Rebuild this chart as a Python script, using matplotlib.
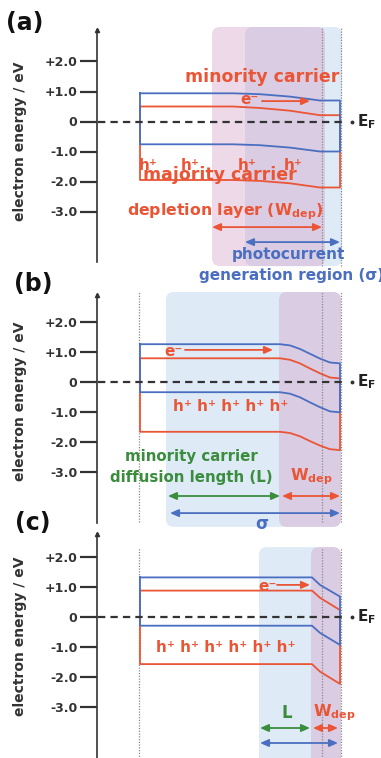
import numpy as np
import matplotlib.pyplot as plt
from matplotlib.patches import FancyBboxPatch

plt.rcParams['font.family'] = 'DejaVu Sans'
plt.rcParams['font.weight'] = 'bold'
plt.rcParams['mathtext.default'] = 'bf'

BLUE = '#4b6fc0'
RED = '#ea5536'
GREEN = '#3b8d3e'
AXIS = '#333333'
BLUE_FILL = '#dfeaf7'
PINK_FILL = '#d49cc4'
GUIDE = '#8a8a8a'

# y axis (electron energy, eV)
tick_vals = [2, 1, 0, -1, -2, -3]
tick_labels = ['+2.0', '+1.0', '0', '-1.0', '-2.0', '-3.0']

# depth: 0 = left edge of the band box, 100 = surface
# (a) wide depletion layer
a_depth = [0, 46.5, 60, 75, 90, 100]
a_blue_top = [0.94, 0.94, 0.91, 0.83, 0.70, 0.70]
a_red_top = [0.50, 0.50, 0.45, 0.36, 0.21, 0.21]
a_blue_bot = [-0.76, -0.76, -0.79, -0.87, -1.00, -1.00]
a_red_bot = [-1.95, -1.95, -1.98, -2.06, -2.20, -2.20]
a_wdep = [36, 91]
a_sigma = [52.5, 100]

# (b) long diffusion length
b_depth = [0, 70, 75, 80, 85, 90, 95, 100]
b_blue_top = [1.26, 1.26, 1.22, 1.10, 0.94, 0.78, 0.65, 0.62]
b_red_top = [0.79, 0.79, 0.74, 0.62, 0.45, 0.29, 0.15, 0.12]
b_blue_bot = [-0.34, -0.34, -0.39, -0.51, -0.68, -0.84, -0.98, -1.01]
b_red_bot = [-1.66, -1.66, -1.70, -1.81, -1.97, -2.12, -2.24, -2.27]
b_L = [14, 70]
b_wdep = [71, 100]
b_sigma = [15, 100]

# (c) short diffusion length
c_depth = [0, 86, 90, 100]
c_blue_top = [1.32, 1.32, 1.07, 0.68]
c_red_top = [0.88, 0.88, 0.64, 0.23]
c_blue_bot = [-0.29, -0.29, -0.53, -0.93]
c_red_bot = [-1.57, -1.57, -1.82, -2.23]
c_L = [60, 85]
c_wdep = [86.5, 99]
c_sigma = [60, 99]

W, H = 381, 758
PX_EV = 30.0
fig = plt.figure(figsize=(W / 100, H / 100), dpi=100)


def make_axes(top_px, bottom_px, zero_px):
    ax = fig.add_axes([97 / W, 1 - bottom_px / H, (W - 97) / W, (bottom_px - top_px) / H])
    ax.set_xlim(-21.5, 120.5)
    ax.set_ylim((zero_px - bottom_px) / PX_EV, (zero_px - top_px) / PX_EV)
    ax.patch.set_alpha(0)
    for s in ['top', 'right', 'bottom']:
        ax.spines[s].set_visible(False)
    ax.spines['left'].set_color(AXIS)
    ax.spines['left'].set_linewidth(1.2)
    ax.set_xticks([])
    ax.set_yticks(tick_vals, tick_labels)
    ax.tick_params(axis='y', length=12, width=1.6, color=AXIS, labelsize=9,
                   labelcolor=AXIS, pad=2)
    ax.plot([0], [1], transform=ax.transAxes, marker='^', ms=3, color=AXIS, clip_on=False)
    ax.text(-0.271, -0.65, 'electron energy / eV', transform=ax.get_yaxis_transform(),
            rotation=90, ha='center', va='center', fontsize=10, color=AXIS)
    # Fermi level
    ax.plot([-21, 103], [0, 0], ls=(0, (3.3, 2.3)), lw=1.6, color=AXIS, clip_on=False, zorder=4)
    ax.plot([106], [0], 'o', ms=1.8, color=AXIS, clip_on=False)
    ax.text(108.5, 0, 'E$_F$', ha='left', va='center', fontsize=11, color='#222222')
    return ax


def region(ax, x0, x1, y0, y1, color, alpha):
    ax.add_patch(FancyBboxPatch((x0, y0), x1 - x0, y1 - y0,
                                boxstyle='round,pad=0,rounding_size=4',
                                mutation_aspect=2 / PX_EV, fc=color, ec='none',
                                alpha=alpha, clip_on=False, zorder=0))


def guides(ax, xs, y0, y1):
    for x in xs:
        ax.plot([x, x], [y0, y1], ls=(0, (1, 1.2)), lw=0.9, color=GUIDE, clip_on=False, zorder=1)


def band(ax, x, top, bot, color):
    x = np.asarray(x, dtype=float)
    xs = np.concatenate([x, x[::-1], x[:1]])
    ys = np.concatenate([top, bot[::-1], top[:1]])
    ax.plot(xs, ys, color=color, lw=1.3, clip_on=False, zorder=3)


def span_arrow(ax, x0, x1, y, color, style='<|-|>'):
    ax.annotate('', xy=(x1, y), xytext=(x0, y),
                arrowprops=dict(arrowstyle=style + ',head_length=0.5,head_width=0.22',
                                color=color, lw=1.3, shrinkA=0, shrinkB=0),
                annotation_clip=False, zorder=5)


# ---- (a) ----
ax = make_axes(30, 262, 121.5)
region(ax, a_sigma[0], 101, -4.82, 3.15, BLUE_FILL, 1.0)
region(ax, a_wdep[0], 92.5, -4.82, 3.15, PINK_FILL, 0.38)
guides(ax, [91, 100.5], -4.82, 3.12)
band(ax, a_depth, a_red_top, a_red_bot, RED)
band(ax, a_depth, a_blue_top, a_blue_bot, BLUE)
ax.text(61, 1.48, 'minority carrier', ha='center', va='center', fontsize=12.5, color=RED)
ax.text(55, 0.75, 'e\u207b', ha='center', va='center', fontsize=11, color=RED)
span_arrow(ax, 61, 85, 0.68, RED, '-|>')
for x in [4, 25, 53.5, 76.5]:
    ax.text(x, -1.45, 'h\u207a', ha='center', va='center', fontsize=11, color=RED)
ax.text(40, -1.8, 'majority carrier', ha='center', va='center', fontsize=12.5, color=RED)
ax.text(42.5, -3.02, 'depletion layer (W$_{dep}$)', ha='center', va='center', fontsize=11.3, color=RED)
span_arrow(ax, a_wdep[0], a_wdep[1], -3.52, RED)
span_arrow(ax, a_sigma[0], a_sigma[1], -4.02, BLUE)
ax.text(74, -4.45, 'photocurrent', ha='center', va='center', fontsize=11, color=BLUE)
ax.text(76, -5.12, 'generation region (\u03c3)', ha='center', va='center', fontsize=11, color=BLUE)
fig.text(25 / W, 1 - 23 / H, '(a)', ha='center', va='center', fontsize=17, color='#111111')

# ---- (b) ----
ax = make_axes(295, 523, 382)
region(ax, 13, 100.5, -4.83, 3.0, BLUE_FILL, 1.0)
region(ax, 69.5, 100.5, -4.83, 3.0, PINK_FILL, 0.38)
guides(ax, [-0.5, 91, 100.5], -4.67, 3.0)
band(ax, b_depth, b_red_top, b_red_bot, RED)
band(ax, b_depth, b_blue_top, b_blue_bot, BLUE)
ax.text(17, 1.02, 'e\u207b', ha='center', va='center', fontsize=11, color=RED)
span_arrow(ax, 22.5, 66.5, 1.07, RED, '-|>')
ax.text(45.5, -0.83, 'h\u207a h\u207a h\u207a h\u207a h\u207a', ha='center', va='center', fontsize=11, color=RED)
ax.text(25.5, -2.5, 'minority carrier', ha='center', va='center', fontsize=10.8, color=GREEN)
ax.text(25.5, -3.17, 'diffusion length (L)', ha='center', va='center', fontsize=10.8, color=GREEN)
ax.text(85.5, -3.17, 'W$_{dep}$', ha='center', va='center', fontsize=11.5, color=RED)
span_arrow(ax, b_L[0], b_L[1], -3.8, GREEN)
span_arrow(ax, b_wdep[0], b_wdep[1], -3.8, RED)
span_arrow(ax, b_sigma[0], b_sigma[1], -4.37, BLUE)
ax.text(61, -4.73, '\u03c3', ha='center', va='center', fontsize=12, color=BLUE)
fig.text(33 / W, 1 - 284 / H, '(b)', ha='center', va='center', fontsize=17, color='#111111')

# ---- (c) ----
ax = make_axes(534, 758, 617)
region(ax, 59.5, 100.5, -5.2, 2.33, BLUE_FILL, 1.0)
region(ax, 85.5, 100.5, -5.2, 2.33, PINK_FILL, 0.38)
guides(ax, [-0.5, 91, 100.5], -4.8, 2.3)
band(ax, c_depth, c_red_top, c_red_bot, RED)
band(ax, c_depth, c_blue_top, c_blue_bot, BLUE)
ax.text(64, 1.03, 'e\u207b', ha='center', va='center', fontsize=11, color=RED)
span_arrow(ax, 68.5, 85, 1.07, RED, '-|>')
ax.text(43, -1.0, 'h\u207a h\u207a h\u207a h\u207a h\u207a h\u207a', ha='center', va='center', fontsize=11, color=RED)
ax.text(73.5, -3.2, 'L', ha='center', va='center', fontsize=12, color=GREEN)
ax.text(97, -3.2, 'W$_{dep}$', ha='center', va='center', fontsize=11.5, color=RED)
span_arrow(ax, c_L[0], c_L[1], -3.7, GREEN)
span_arrow(ax, c_wdep[0], c_wdep[1], -3.7, RED)
span_arrow(ax, c_sigma[0], c_sigma[1], -4.2, BLUE)
ax.text(75, -4.85, '\u03c3', ha='center', va='center', fontsize=12, color=BLUE)
fig.text(33 / W, 1 - 523 / H, '(c)', ha='center', va='center', fontsize=17, color='#111111')

fig.savefig('out.png', dpi=100)
